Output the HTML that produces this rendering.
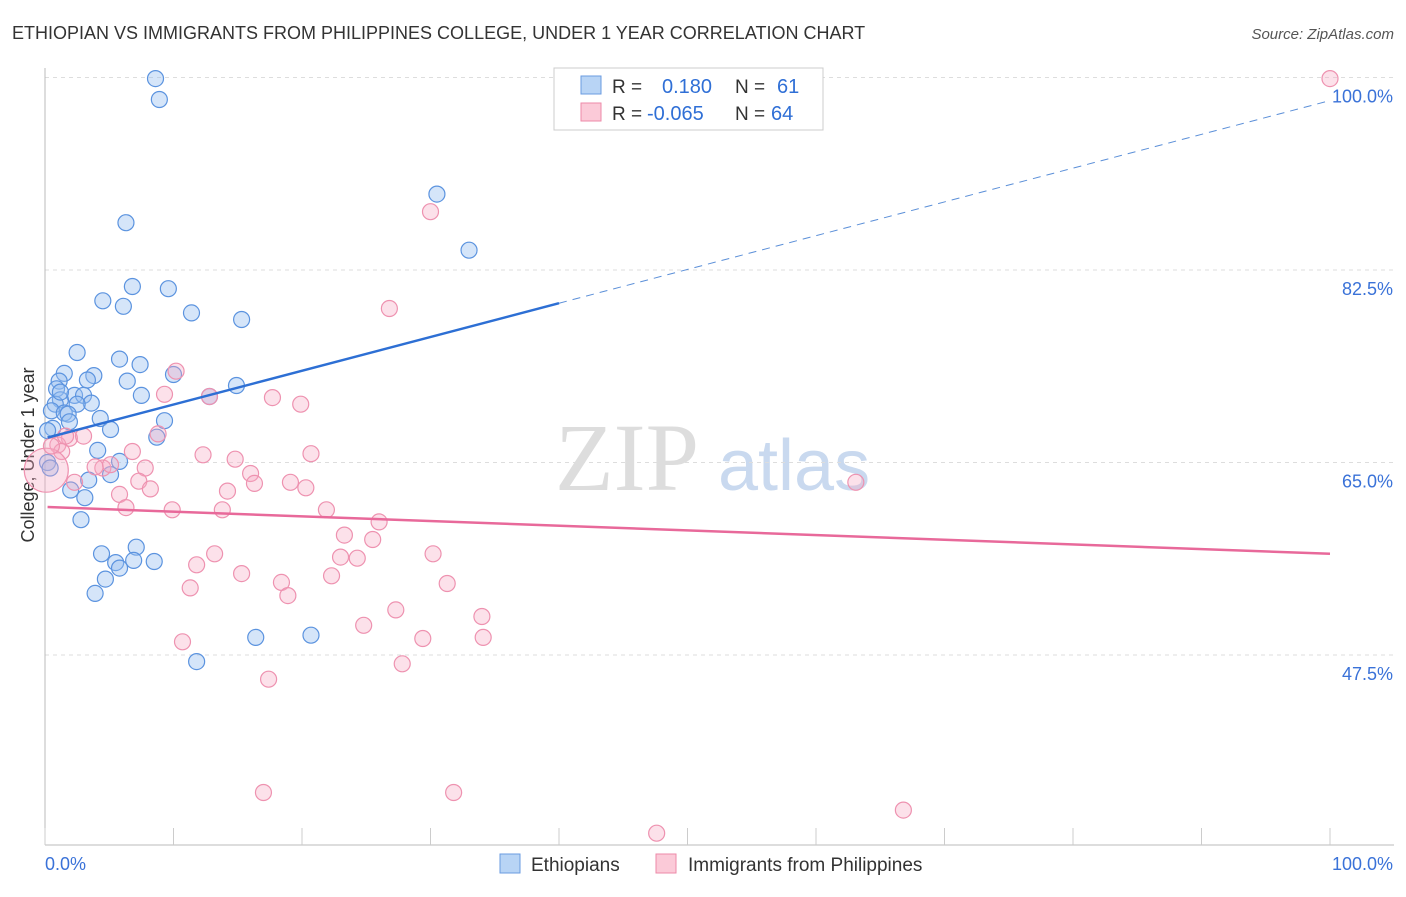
<!DOCTYPE html>
<html><head><meta charset="utf-8"><style>
body{margin:0;background:#fff;font-family:"Liberation Sans",sans-serif;}
svg text{font-family:"Liberation Sans",sans-serif;}
</style></head><body>
<svg id="chart" width="1406" height="892" xmlns="http://www.w3.org/2000/svg">
<text x="12" y="39" font-size="18" fill="#333">ETHIOPIAN VS IMMIGRANTS FROM PHILIPPINES COLLEGE, UNDER 1 YEAR CORRELATION CHART</text>
<text x="1394" y="39" font-size="15" fill="#555" text-anchor="end" font-style="italic">Source: ZipAtlas.com</text>
<text x="555" y="490" font-size="96" fill="#ddd" font-family="Liberation Serif" style="font-family:'Liberation Serif'">ZIP</text>
<text x="718" y="490" font-size="72" fill="#c9d9ef">atlas</text>
<text transform="translate(34,455) rotate(-90)" font-size="18" fill="#333" text-anchor="middle">College, Under 1 year</text>
<g id="grid"></g><g id="pts"></g><g id="lines"></g>
<g>
<rect x="554" y="68" width="269" height="62" fill="#fff" stroke="#ccc"/>
<rect x="581" y="76" width="20" height="18" fill="#b8d4f5" stroke="#6a9be0"/>
<rect x="581" y="103" width="20" height="18" fill="#fbcad8" stroke="#ee8aa8"/>
<text x="612" y="93" font-size="19" fill="#333">R =</text><text x="662" y="93" font-size="20" fill="#2f6fd6">0.180</text>
<text x="735" y="93" font-size="19" fill="#333">N =</text><text x="777" y="93" font-size="20" fill="#2f6fd6">61</text>
<text x="612" y="120" font-size="19" fill="#333">R =</text><text x="647" y="120" font-size="20" fill="#2f6fd6">-0.065</text>
<text x="735" y="120" font-size="19" fill="#333">N =</text><text x="771" y="120" font-size="20" fill="#2f6fd6">64</text>
</g>
<g>
<rect x="500" y="854" width="20" height="19" fill="#b8d4f5" stroke="#6a9be0"/>
<text x="531" y="871" font-size="19" fill="#333">Ethiopians</text>
<rect x="656" y="854" width="20" height="19" fill="#fbcad8" stroke="#ee8aa8"/>
<text x="688" y="871" font-size="19" fill="#333">Immigrants from Philippines</text>
</g>
</svg>
<script>
const yTicks=[47.5,65.0,82.5,100.0];
const xTickLabels=["0.0%","100.0%"];
const blueX=[8.6,8.9,30.5,6.3,33.0,6.8,9.6,4.5,6.1,11.4,15.3,2.5,5.8,7.4,1.5,10.0,3.8,1.1,3.3,6.4,14.9,0.9,2.3,3.0,7.5,12.8,1.2,3.6,0.8,2.5,0.5,1.5,1.8,4.3,1.9,9.3,0.6,5.1,0.2,8.7,4.1,5.8,0.2,5.1,3.4,2.0,3.1,2.8,7.1,4.4,5.5,6.9,8.5,5.8,4.7,3.9,16.4,20.7,11.8,1.2,0.4];
const blueY=[99.9,98.0,89.4,86.8,84.3,81.0,80.8,79.7,79.2,78.6,78.0,75.0,74.4,73.9,73.1,73.0,72.9,72.4,72.5,72.4,72.0,71.7,71.1,71.1,71.1,71.0,70.7,70.4,70.3,70.3,69.7,69.5,69.4,69.0,68.7,68.8,68.1,68.0,67.9,67.3,66.1,65.1,65.0,63.9,63.4,62.5,61.8,59.8,57.3,56.7,55.9,56.1,56.0,55.4,54.4,53.1,49.1,49.3,46.9,71.4,64.5];
const pinkX=[100,30.0,26.8,10.2,12.8,17.7,19.9,9.3,1.9,3.0,8.8,1.0,6.8,12.3,14.8,20.7,4.5,7.8,16.0,5.1,7.3,16.3,19.1,20.3,14.2,5.8,8.2,9.9,6.3,13.8,21.9,26.0,23.3,25.5,23.0,24.3,30.2,13.2,11.8,15.3,22.3,18.4,31.3,11.3,18.9,27.3,34.0,24.8,29.4,34.1,10.7,27.8,17.4,17.0,31.8,47.6,66.8,63.1,2.3,1.3,3.9,1.6,0.1,0.5];
const pinkY=[99.9,87.8,79.0,73.3,71.0,70.9,70.3,71.2,67.2,67.4,67.6,66.6,66.0,65.7,65.3,65.8,64.5,64.5,64.0,64.8,63.3,63.1,63.2,62.7,62.4,62.1,62.6,60.7,60.9,60.7,60.7,59.6,58.4,58.0,56.4,56.3,56.7,56.7,55.7,54.9,54.7,54.1,54.0,53.6,52.9,51.6,51.0,50.2,49.0,49.1,48.7,46.7,45.3,35.0,35.0,31.3,33.4,63.2,63.2,66.0,64.6,67.4,64.3,66.5];
const pinkR=pinkX.map((v,i)=>i===62?22:8);
const blueTrend=[67.2,97.9];
const pinkTrend=[60.95,56.7];
const NS="http://www.w3.org/2000/svg";
const sx=v=>45+v*12.85;
const sy=v=>77.5+(100-v)*11;
function mk(tag,attrs,parent){const e=document.createElementNS(NS,tag);for(const k in attrs)e.setAttribute(k,attrs[k]);parent.appendChild(e);return e;}
const grid=document.getElementById('grid');
yTicks.forEach(t=>{
 const l=mk('line',{x1:45,x2:1394,y1:sy(t),y2:sy(t),stroke:'#ddd','stroke-dasharray':'4,4'},grid);
 
 
 const tx=mk('text',{x:1393,y:sy(t)+25,'font-size':18,fill:'#3a72d8','text-anchor':'end'},grid);
 tx.textContent=t.toFixed(1)+'%';
 
 
});
const ax=mk('line',{x1:45,x2:1394,y1:845,y2:845,stroke:'#bbb'},grid);


const ay=mk('line',{x1:45,x2:45,y1:68,y2:845,stroke:'#bbb'},grid);


for(let i=0;i<=10;i++){
 const tk=mk('line',{x1:sx(i*10),x2:sx(i*10),y1:828,y2:845,stroke:'#ccc'},grid);
 
 
}
[[0,'start'],[100,'end']].forEach((p,i)=>{
 const tx=mk('text',{x:p[0]===0?45:1393,y:870,'font-size':18,fill:'#3a72d8','text-anchor':p[1]},grid);
 tx.textContent=xTickLabels[i];
 
 
});
const pts=document.getElementById('pts');
blueX.forEach((x,i)=>{
 const c=mk('circle',{cx:sx(x),cy:sy(blueY[i]),r:8,fill:'rgba(150,190,240,0.4)',stroke:'#5b93df','stroke-width':1.2},pts);
 
 
});
pinkX.forEach((x,i)=>{
 const c=mk('circle',{cx:sx(x),cy:sy(pinkY[i]),r:pinkR[i],fill:'rgba(245,170,195,0.35)',stroke:'#ee92b0','stroke-width':1.2},pts);
 
 
});
const lines=document.getElementById('lines');
const bAt=x=>blueTrend[0]+(blueTrend[1]-blueTrend[0])*x/100;
const b1=mk('line',{x1:sx(0.2),y1:sy(bAt(0.2)),x2:sx(40),y2:sy(bAt(40)),stroke:'#2d6fd4','stroke-width':2.5},lines);


const b2=mk('line',{x1:sx(40),y1:sy(bAt(40)),x2:sx(100),y2:sy(bAt(100)),stroke:'#5b8fd8','stroke-width':1,'stroke-dasharray':'8,6'},lines);


const p1=mk('line',{x1:sx(0.2),y1:sy(pinkTrend[0]),x2:sx(100),y2:sy(pinkTrend[1]),stroke:'#e8699a','stroke-width':2.5},lines);


</script>
</body></html>
